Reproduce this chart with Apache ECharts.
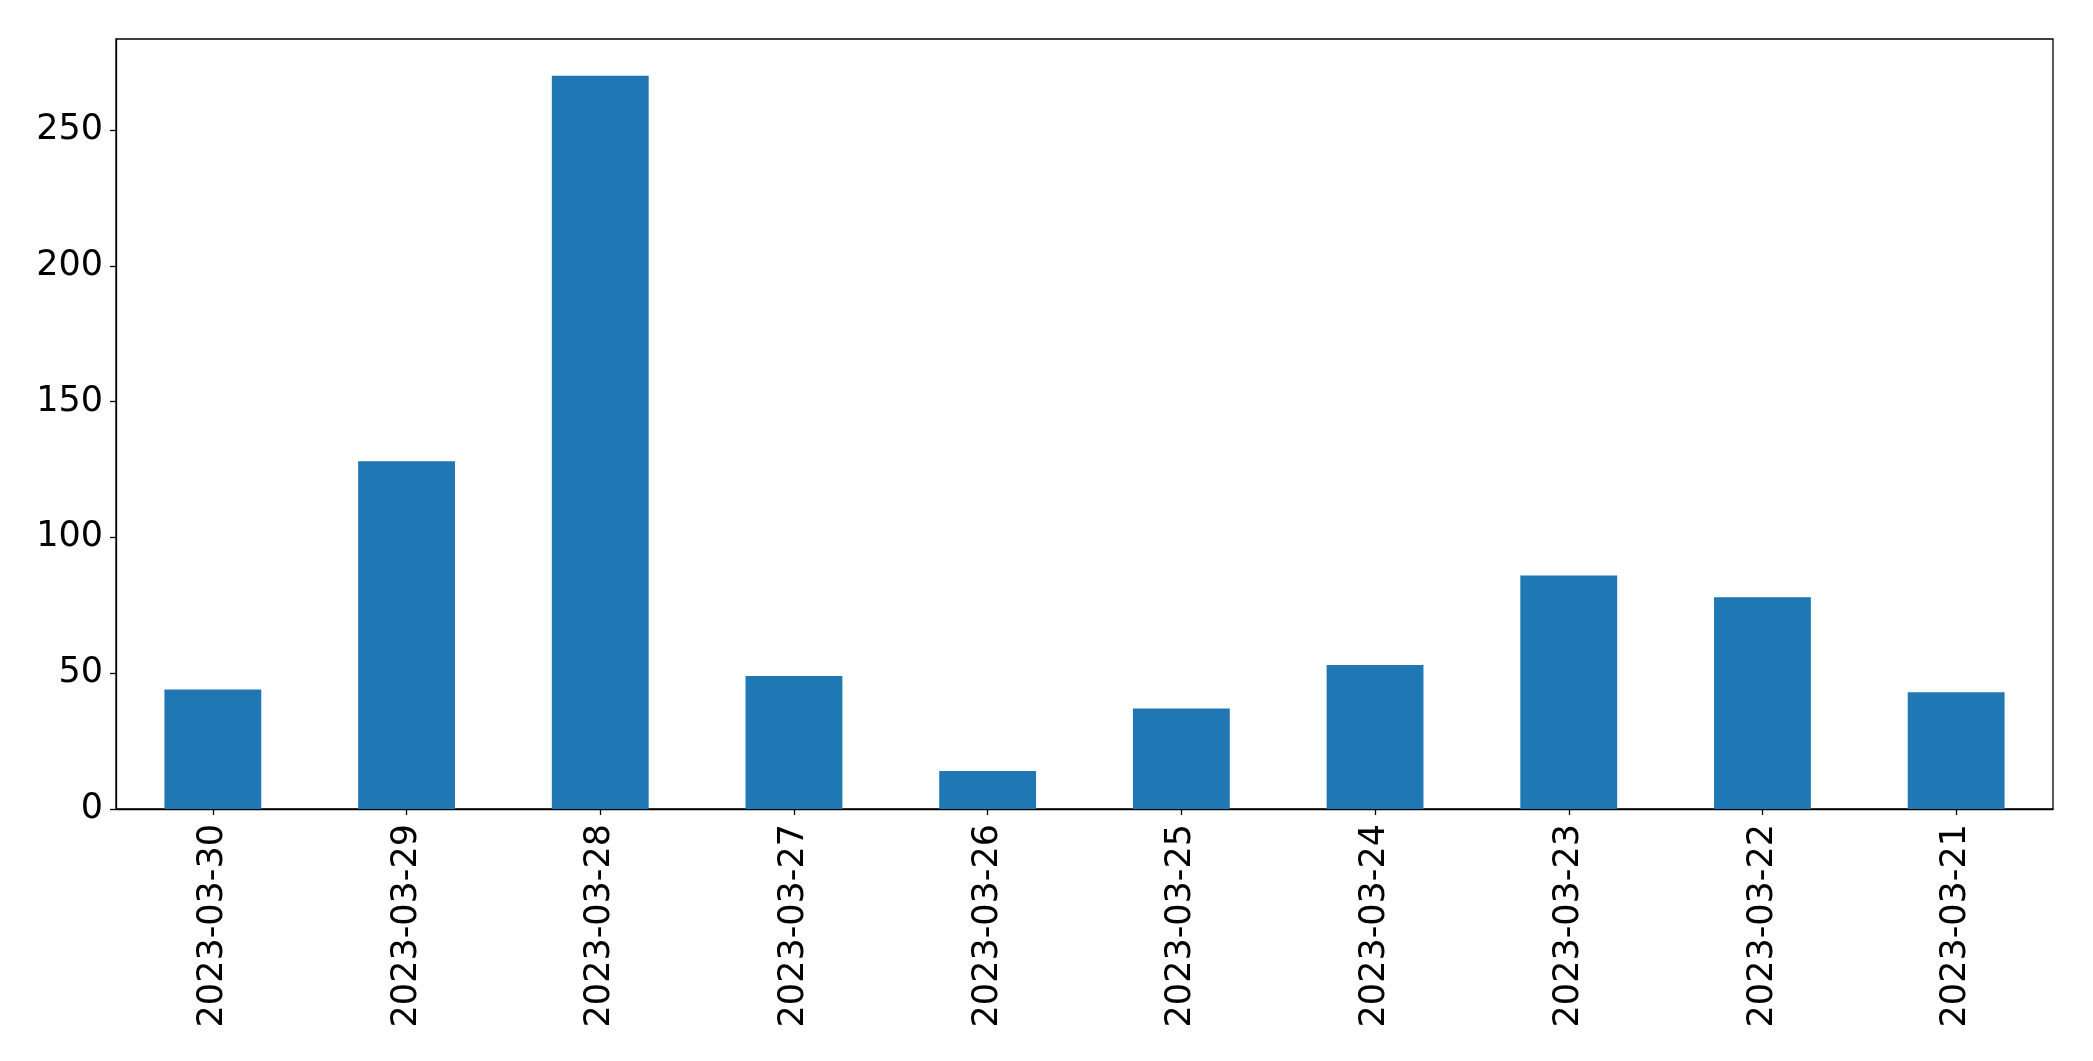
<!DOCTYPE html>
<html>
<head>
<meta charset="utf-8">
<script src="https://cdn.jsdelivr.net/npm/echarts@6/dist/echarts.min.js"></script>
<style>
html,body{margin:0;padding:0;background:#fff;}
#chart{width:2093px;height:1061px;}
</style>
</head>
<body>
<div id="chart"></div>
<script>
const categories = ["2023-03-30","2023-03-29","2023-03-28","2023-03-27","2023-03-26","2023-03-25","2023-03-24","2023-03-23","2023-03-22","2023-03-21"];
const values = [44, 128, 270, 49, 14, 37, 53, 86, 78, 43];
const yTicks = [0, 50, 100, 150, 200, 250];

const chart = echarts.init(document.getElementById('chart'), null, {renderer: 'canvas'});
const font = 'DejaVu Sans';
chart.setOption({
  animation: false,
  backgroundColor: '#ffffff',
  grid: {left: 116, right: 40, top: 39, bottom: 252, show: true, borderColor: '#000', borderWidth: 1.3, backgroundColor: 'transparent'},
  xAxis: {
    type: 'category',
    data: categories,
    axisLine: {show: true, lineStyle: {color: '#000', width: 1.3}},
    axisTick: {show: true, alignWithLabel: true, length: 6, lineStyle: {color: '#000', width: 1.3}},
    axisLabel: {rotate: 90, margin: 15, color: '#000', fontFamily: font, fontSize: 35, interval: 0},
    splitLine: {show: false}
  },
  yAxis: {
    type: 'value',
    min: 0,
    max: 283.5,
    interval: 50,
    axisLine: {show: true, lineStyle: {color: '#000', width: 1.3}},
    axisTick: {show: true, length: 6, lineStyle: {color: '#000', width: 1.3}},
    axisLabel: {
      color: '#000', fontFamily: font, fontSize: 35, margin: 13, showMaxLabel: false,
      formatter: function (v) { return yTicks.indexOf(v) >= 0 ? String(v) : ''; }
    },
    splitLine: {show: false}
  },
  series: [{
    type: 'bar',
    data: values,
    barWidth: '50%',
    itemStyle: {color: '#1f77b4'}
  }]
});
</script>
</body>
</html>
